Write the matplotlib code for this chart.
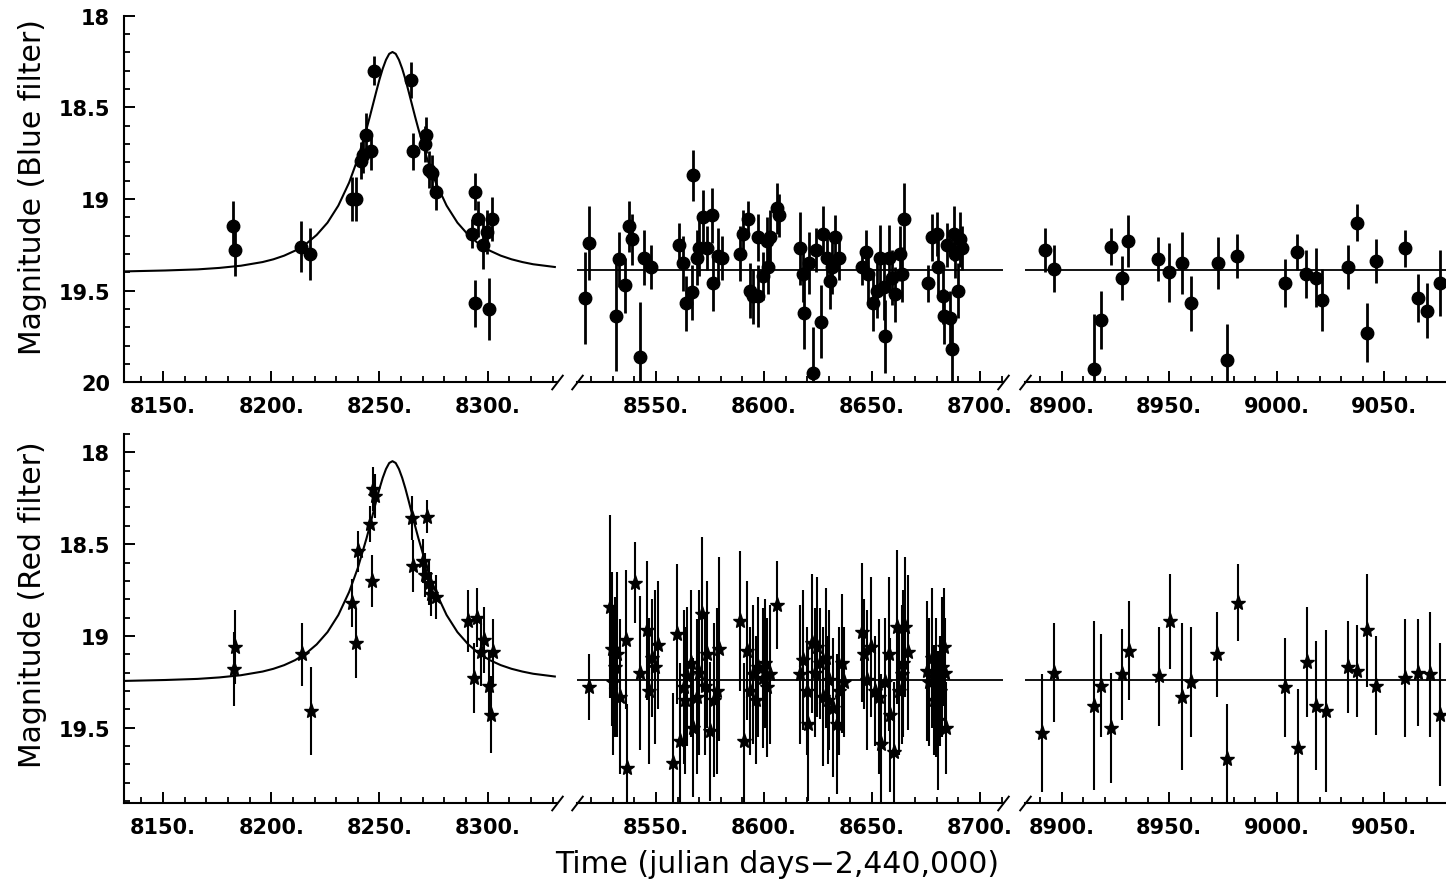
import matplotlib.pyplot as plt
from matplotlib.ticker import MultipleLocator, FuncFormatter

plt.rcParams['font.family'] = 'DejaVu Sans'

# ---- data (julian days - 2,440,000, magnitude, error) ----
blue_t = [8182.3, 8183.5, 8213.9, 8218.0, 8237.4, 8239.2, 8241.6, 8242.6, 8243.9, 8246.2, 8247.7,
          8264.6, 8265.7, 8270.8, 8271.5, 8272.8, 8274.3, 8276.2, 8292.8, 8294.3, 8294.3, 8295.4,
          8297.7, 8299.5, 8300.7, 8302.0,
          8517.1, 8519.1, 8531.5, 8533.0, 8535.7, 8537.7, 8538.8, 8542.6, 8544.4, 8547.5,
          8560.8, 8562.4, 8563.9, 8566.5, 8567.3, 8568.8, 8570.1, 8571.6, 8573.5, 8575.8, 8576.5, 8578.9, 8580.4,
          8588.9, 8590.4, 8592.7, 8593.5, 8595.1, 8597.4, 8597.4, 8599.4, 8601.3, 8602.0, 8602.8, 8605.9, 8607.1,
          8616.7, 8618.2, 8618.7, 8621.0, 8622.5, 8624.1, 8626.4, 8627.2, 8629.0, 8630.6, 8631.4, 8632.9, 8634.9,
          8645.2, 8647.2, 8648.3, 8650.6, 8652.2, 8653.7, 8655.3, 8656.0, 8657.6, 8659.1, 8660.7, 8662.7, 8663.8, 8664.8,
          8675.8, 8677.6, 8679.9, 8680.7, 8683.0, 8683.3, 8684.6, 8686.1, 8686.9, 8687.7, 8688.4, 8690.0, 8690.7, 8691.5,
          8892.2, 8896.6, 8915.2, 8918.1, 8922.9, 8928.2, 8931.0, 8944.9, 8950.1, 8955.8, 8960.0, 8972.8, 8977.0, 8981.7,
          9003.8, 9009.3, 9013.6, 9018.3, 9020.9, 9033.0, 9037.2, 9041.8, 9046.2, 9059.6, 9065.8, 9069.7, 9075.9]
blue_m = [19.15, 19.28, 19.26, 19.30, 19.00, 19.00, 18.79, 18.76, 18.65, 18.74, 18.30,
          18.35, 18.74, 18.70, 18.65, 18.84, 18.86, 18.96, 19.19, 18.96, 19.57, 19.11,
          19.25, 19.18, 19.60, 19.11,
          19.54, 19.24, 19.64, 19.33, 19.47, 19.15, 19.22, 19.86, 19.32, 19.37,
          19.25, 19.35, 19.57, 19.51, 18.87, 19.32, 19.27, 19.10, 19.27, 19.09, 19.46, 19.31, 19.32,
          19.30, 19.19, 19.11, 19.50, 19.53, 19.53, 19.21, 19.42, 19.23, 19.37, 19.21, 19.05, 19.09,
          19.27, 19.41, 19.62, 19.35, 19.95, 19.28, 19.67, 19.19, 19.32, 19.45, 19.37, 19.21, 19.32,
          19.37, 19.29, 19.41, 19.57, 19.50, 19.32, 19.48, 19.75, 19.32, 19.43, 19.52, 19.30, 19.41, 19.11,
          19.46, 19.21, 19.19, 19.37, 19.53, 19.64, 19.25, 19.65, 19.82, 19.19, 19.30, 19.50, 19.22, 19.27,
          19.28, 19.38, 19.93, 19.66, 19.26, 19.43, 19.23, 19.33, 19.40, 19.35, 19.57, 19.35, 19.88, 19.31,
          19.46, 19.29, 19.41, 19.43, 19.55, 19.37, 19.13, 19.73, 19.34, 19.27, 19.54, 19.61, 19.46]
blue_e = [0.14, 0.14, 0.14, 0.14, 0.12, 0.12, 0.10, 0.10, 0.12, 0.10, 0.08,
          0.10, 0.10, 0.10, 0.10, 0.10, 0.10, 0.10, 0.08, 0.10, 0.13, 0.10,
          0.13, 0.12, 0.17, 0.12,
          0.25, 0.20, 0.30, 0.15, 0.15, 0.14, 0.14, 0.30, 0.15, 0.12,
          0.12, 0.15, 0.15, 0.15, 0.14, 0.15, 0.15, 0.15, 0.12, 0.15, 0.15, 0.15, 0.12,
          0.15, 0.13, 0.10, 0.15, 0.15, 0.17, 0.13, 0.13, 0.13, 0.15, 0.15, 0.14, 0.12,
          0.20, 0.15, 0.20, 0.17, 0.25, 0.12, 0.20, 0.15, 0.15, 0.15, 0.15, 0.12, 0.12,
          0.10, 0.12, 0.15, 0.15, 0.15, 0.18, 0.18, 0.20, 0.18, 0.15, 0.15, 0.15, 0.15, 0.20,
          0.10, 0.13, 0.12, 0.15, 0.15, 0.15, 0.12, 0.15, 0.18, 0.15, 0.13, 0.15, 0.15, 0.12,
          0.12, 0.13, 0.30, 0.16, 0.10, 0.12, 0.14, 0.12, 0.16, 0.17, 0.15, 0.14, 0.20, 0.12,
          0.13, 0.10, 0.13, 0.16, 0.17, 0.12, 0.10, 0.16, 0.12, 0.10, 0.13, 0.15, 0.18]

red_t = [8183.5, 8182.6, 8214.1, 8218.5, 8237.4, 8239.2, 8240.0, 8245.4, 8246.6, 8247.2, 8248.1,
         8265.1, 8265.7, 8271.8, 8270.0, 8271.2, 8273.1, 8273.9, 8276.2, 8290.7, 8294.9, 8293.8,
         8296.9, 8298.4, 8300.4, 8301.5, 8302.3,
         8519.0, 8528.7, 8529.5, 8530.2, 8531.0, 8532.0, 8533.3, 8536.1, 8536.4, 8540.2, 8542.6, 8545.7,
         8546.5, 8548.0, 8549.5, 8551.0,
         8557.7, 8559.6, 8561.1, 8562.7, 8563.2, 8564.2, 8566.0, 8567.3, 8568.8, 8570.0, 8571.2, 8572.7,
         8573.8, 8575.0, 8576.6, 8578.0, 8579.3,
         8588.9, 8590.7, 8592.3, 8593.5, 8595.1, 8596.3, 8597.4, 8599.4, 8600.3, 8601.2, 8602.8, 8605.9,
         8616.7, 8618.2, 8619.8, 8620.5, 8622.1, 8623.5, 8624.7, 8626.0, 8627.2, 8628.7, 8629.5, 8630.2,
         8632.1, 8633.6, 8634.5, 8636.0, 8637.0,
         8645.2, 8646.2, 8647.5, 8649.4, 8651.5, 8653.4, 8654.0, 8656.2, 8658.0, 8658.3, 8660.2, 8661.4,
         8662.5, 8663.7, 8664.5, 8665.3, 8666.8,
         8675.3, 8676.5, 8677.6, 8678.6, 8679.6, 8680.7, 8681.5, 8682.3, 8683.3, 8683.8, 8684.3,
         8891.0, 8896.6, 8915.2, 8918.3, 8922.9, 8928.2, 8931.4, 8945.2, 8950.3, 8955.8, 8960.0, 8972.0, 8977.0, 8981.8,
         9003.8, 9010.0, 9013.9, 9018.3, 9022.8, 9033.0, 9037.2, 9041.8, 9046.2, 9059.6, 9065.8, 9071.2, 9076.1]
red_m = [19.06, 19.18, 19.10, 19.41, 18.82, 19.04, 18.54, 18.39, 18.70, 18.20, 18.24,
         18.36, 18.62, 18.35, 18.59, 18.67, 18.71, 18.77, 18.79, 18.92, 18.90, 19.23,
         19.09, 19.02, 19.27, 19.43, 19.09,
         19.28, 18.84, 19.07, 19.25, 19.17, 19.10, 19.33, 19.02, 19.72, 18.71, 19.20, 18.97,
         19.30, 19.12, 19.17, 19.05,
         19.69, 18.99, 19.57, 19.28, 19.35, 19.22, 19.15, 19.50, 19.33, 19.20, 18.88, 19.27,
         19.10, 19.52, 19.35, 19.30, 19.07,
         18.92, 19.57, 19.08, 19.30, 19.21, 19.35, 19.17, 19.23, 19.15, 19.28, 19.21, 18.83,
         19.21, 19.13, 19.30, 19.48, 19.04, 19.20, 19.06, 19.15, 19.33, 19.12, 19.35, 19.24,
         19.39, 19.48, 19.30, 19.15, 19.25,
         18.98, 19.10, 19.24, 19.06, 19.30, 19.33, 19.59, 19.25, 19.10, 19.43, 19.63, 18.95,
         19.30, 19.21, 19.15, 18.95, 19.09,
         19.19, 19.25, 19.12, 19.35, 19.28, 19.46, 19.30, 19.17, 19.06, 19.20, 19.50,
         19.53, 19.20, 19.38, 19.27, 19.50, 19.21, 19.08, 19.22, 18.92, 19.33, 19.25, 19.10, 19.67, 18.82,
         19.28, 19.61, 19.14, 19.38, 19.41, 19.17, 19.19, 18.97, 19.27, 19.23, 19.20, 19.21, 19.43]
red_e = [0.20, 0.20, 0.17, 0.24, 0.13, 0.19, 0.11, 0.10, 0.14, 0.12, 0.12,
         0.12, 0.14, 0.09, 0.12, 0.12, 0.12, 0.12, 0.12, 0.17, 0.16, 0.19,
         0.18, 0.18, 0.18, 0.21, 0.18,
         0.18, 0.50, 0.42, 0.40, 0.38, 0.45, 0.42, 0.38, 0.35, 0.22, 0.42, 0.38,
         0.40, 0.32, 0.42, 0.35,
         0.38, 0.38, 0.42, 0.42, 0.40, 0.38, 0.40, 0.38, 0.42, 0.45, 0.42, 0.38,
         0.40, 0.38, 0.42, 0.45, 0.50,
         0.38, 0.42, 0.38, 0.35, 0.38, 0.35, 0.38, 0.38, 0.35, 0.38, 0.38, 0.24,
         0.38, 0.38, 0.35, 0.42, 0.38, 0.35, 0.38, 0.30, 0.38, 0.38, 0.35, 0.38,
         0.38, 0.38, 0.35, 0.38, 0.30,
         0.38, 0.30, 0.38, 0.38, 0.30, 0.42, 0.38, 0.35, 0.42, 0.42, 0.38, 0.42,
         0.35, 0.38, 0.40, 0.38, 0.42,
         0.38, 0.35, 0.38, 0.30, 0.38, 0.38, 0.30, 0.38, 0.32, 0.30, 0.25,
         0.32, 0.27, 0.46, 0.28, 0.30, 0.25, 0.27, 0.27, 0.26, 0.40, 0.30, 0.23, 0.30, 0.21,
         0.27, 0.32, 0.30, 0.35, 0.44, 0.25, 0.25, 0.31, 0.27, 0.32, 0.29, 0.34, 0.39]

# fitted light curve
curve_t = [8132, 8151, 8166, 8176, 8186, 8196, 8201, 8206, 8211, 8216, 8221, 8226, 8231, 8236,
           8240, 8244, 8245.5, 8247, 8248.5, 8250, 8251.5, 8253, 8254.5, 8256, 8257.5, 8259,
           8260.5, 8262, 8263.5, 8265, 8266.5, 8268, 8272, 8276, 8281, 8286, 8291, 8296, 8301,
           8306, 8311, 8316, 8321, 8331]
blue_fit = [19.395, 19.390, 19.384, 19.376, 19.364, 19.344, 19.329, 19.309, 19.282, 19.246,
            19.196, 19.129, 19.036, 18.910, 18.780, 18.619, 18.553, 18.484, 18.415, 18.348,
            18.289, 18.241, 18.208, 18.198, 18.208, 18.241, 18.289, 18.348, 18.415, 18.484,
            18.553, 18.619, 18.780, 18.910, 19.036, 19.129, 19.196, 19.246, 19.282, 19.309,
            19.329, 19.344, 19.356, 19.371]
red_fit = [19.245, 19.240, 19.234, 19.226, 19.214, 19.194, 19.179, 19.159, 19.132, 19.096,
           19.046, 18.979, 18.886, 18.760, 18.630, 18.469, 18.403, 18.334, 18.265, 18.198,
           18.139, 18.091, 18.058, 18.048, 18.058, 18.091, 18.139, 18.198, 18.265, 18.334,
           18.403, 18.469, 18.630, 18.760, 18.886, 18.979, 19.046, 19.096, 19.132, 19.159,
           19.179, 19.194, 19.206, 19.221]
blue_base = 19.39
red_base = 19.24

seg_lims = [(8132, 8332), (8513.4, 8710.6), (8882.9, 9078.7)]

# ---- layout in pixels ----
W, H = 1446, 887
seg_px = [(124, 557), (577, 1003), (1025, 1446)]
panels = [
    dict(y=(16.7, 383.3), ylim=(20, 18), t=blue_t, m=blue_m, e=blue_e, fit=blue_fit,
         base=blue_base, marker='o', ms=9, elw=2.0),
    dict(y=(435, 804), ylim=(19.91, 17.9), t=red_t, m=red_m, e=red_e, fit=red_fit,
         base=red_base, marker='*', ms=11, elw=1.5),
]

fig = plt.figure(figsize=(W / 100, H / 100), dpi=100)

brk = dict(marker=[(-1, -1.3), (1, 1.3)], markersize=11, linestyle='none',
           color='k', mec='k', mew=1.4, clip_on=False)

for p in panels:
    ytop, ybot = p['y']
    for i, ((x0, x1), lims) in enumerate(zip(seg_px, seg_lims)):
        ax = fig.add_axes([x0 / W, 1 - ybot / H, (x1 - x0) / W, (ybot - ytop) / H])
        ax.patch.set_visible(False)
        ax.errorbar(p['t'], p['m'], yerr=p['e'], fmt=p['marker'], color='k', ms=p['ms'],
                    elinewidth=p['elw'], capsize=0, zorder=3)
        if i == 0:
            ax.plot(curve_t, p['fit'], color='k', lw=1.5, zorder=2)
        else:
            ax.axhline(p['base'], color='k', lw=1.3, zorder=2)
        ax.set_xlim(*lims)
        ax.set_ylim(*p['ylim'])

        for s in ['top', 'right']:
            ax.spines[s].set_visible(False)
        ax.spines['bottom'].set_linewidth(1.5)
        ax.xaxis.set_major_locator(MultipleLocator(50))
        ax.xaxis.set_minor_locator(MultipleLocator(10))
        ax.xaxis.set_major_formatter(FuncFormatter(lambda v, pos: f"{v:.0f}."))
        ax.tick_params(axis='x', which='major', direction='in', length=8, width=1.4,
                       pad=10, labelsize=15)
        ax.tick_params(axis='x', which='minor', direction='in', length=4.5, width=1.3)
        for lab in ax.get_xticklabels():
            lab.set_fontweight('bold')

        if i == 0:
            ax.spines['left'].set_linewidth(1.5)
            ax.yaxis.set_major_locator(MultipleLocator(0.5))
            ax.yaxis.set_minor_locator(MultipleLocator(0.1))
            ax.yaxis.set_major_formatter(FuncFormatter(lambda v, pos: f"{v:g}"))
            ax.tick_params(axis='y', which='major', direction='in', length=8, width=1.4,
                           pad=10, labelsize=15)
            ax.tick_params(axis='y', which='minor', direction='in', length=4.5, width=1.3)
            for lab in ax.get_yticklabels():
                lab.set_fontweight('bold')
        else:
            ax.spines['left'].set_visible(False)
            ax.tick_params(axis='y', which='both', left=False, labelleft=False)

        # broken-axis slashes
        if i < 2:
            ax.plot([1], [0], transform=ax.transAxes, **brk)
        if i > 0:
            ax.plot([0], [0], transform=ax.transAxes, **brk)

fig.text(33 / W, 1 - 187 / H, 'Magnitude (Blue filter)', rotation=90,
         ha='center', va='center', fontsize=21.5)
fig.text(33 / W, 1 - 605 / H, 'Magnitude (Red filter)', rotation=90,
         ha='center', va='center', fontsize=21.5)
fig.text(777 / W, 1 - 865 / H, 'Time (julian days\u22122,440,000)',
         ha='center', va='center', fontsize=21.5)

fig.savefig('out.png', dpi=100)
